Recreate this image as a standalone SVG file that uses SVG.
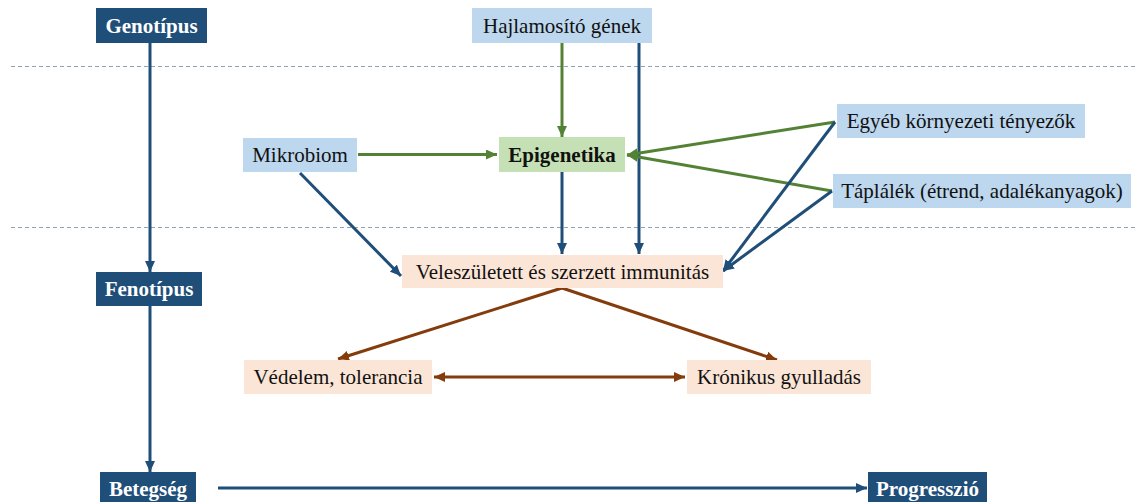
<svg xmlns="http://www.w3.org/2000/svg" width="1137" height="502" viewBox="0 0 1137 502">
<style>
.dk{fill:#1F4E79}
.lb{fill:#BDD7EE}
.gr{fill:#C5E0B4}
.pe{fill:#FBE5D6}
text{font-size:21px;text-anchor:middle;dominant-baseline:central}
.tw{font-weight:bold;fill:#fff}
.tb{fill:#111}
.tbb{font-weight:bold;fill:#111}
.b{stroke:#1F4E79;stroke-width:3;fill:none}
.g{stroke:#548235;stroke-width:3;fill:none}
.r{stroke:#843C0C;stroke-width:3;fill:none}
.d{stroke:#8FA3B3;stroke-width:1;stroke-dasharray:4,3;fill:none}
</style>
<defs>
<marker id="ab" markerUnits="userSpaceOnUse" markerWidth="11" markerHeight="10" refX="11" refY="5" orient="auto-start-reverse"><path d="M0,0 L11,5 L0,10 z" fill="#1F4E79"/></marker>
<marker id="ag" markerUnits="userSpaceOnUse" markerWidth="11" markerHeight="10" refX="11" refY="5" orient="auto-start-reverse"><path d="M0,0 L11,5 L0,10 z" fill="#548235"/></marker>
<marker id="ar" markerUnits="userSpaceOnUse" markerWidth="11" markerHeight="10" refX="11" refY="5" orient="auto-start-reverse"><path d="M0,0 L11,5 L0,10 z" fill="#843C0C"/></marker>
</defs>
<rect width="1137" height="502" fill="#fff"/>
<g id="separators">
<line class="d" x1="11" y1="66.5" x2="1137" y2="66.5"/>
<line class="d" x1="11" y1="227.5" x2="1137" y2="227.5"/>
</g>
<g id="connectors">
<line class="b" x1="150" y1="43" x2="150" y2="272" marker-end="url(#ab)"/>
<line class="b" x1="150" y1="306" x2="150" y2="472" marker-end="url(#ab)"/>
<line class="b" x1="218" y1="488" x2="867" y2="488" marker-end="url(#ab)"/>
<line class="g" x1="562" y1="43" x2="562" y2="137" marker-end="url(#ag)"/>
<line class="b" x1="639" y1="43" x2="639" y2="254" marker-end="url(#ab)"/>
<line class="g" x1="358" y1="154.5" x2="497" y2="154.5" marker-end="url(#ag)"/>
<line class="g" x1="835" y1="122" x2="627" y2="155" marker-end="url(#ag)"/>
<line class="g" x1="832" y1="191" x2="627" y2="155" marker-end="url(#ag)"/>
<line class="b" x1="835" y1="122" x2="723" y2="271" marker-end="url(#ab)"/>
<line class="b" x1="832" y1="191" x2="723" y2="271" marker-end="url(#ab)"/>
<line class="b" x1="300" y1="173" x2="401" y2="276" marker-end="url(#ab)"/>
<line class="b" x1="562" y1="172" x2="562" y2="254" marker-end="url(#ab)"/>
<line class="r" x1="562" y1="288" x2="338" y2="359" marker-end="url(#ar)"/>
<line class="r" x1="562" y1="288" x2="777" y2="360" marker-end="url(#ar)"/>
<line class="r" x1="434" y1="377" x2="685" y2="377" marker-start="url(#ar)" marker-end="url(#ar)"/>
</g>
<g font-family="Liberation Serif, serif">
<g id="genotipus"><rect class="dk" x="96" y="8" width="111" height="35"/><text class="tw" x="151.5" y="25.5">Genotípus</text></g>
<g id="hajlamosito"><rect class="lb" x="472" y="8" width="180" height="35"/><text class="tb" x="562" y="25.5">Hajlamosító gének</text></g>
<g id="mikrobiom"><rect class="lb" x="243" y="138" width="114" height="34"/><text class="tb" x="300" y="155">Mikrobiom</text></g>
<g id="epigenetika"><rect class="gr" x="499" y="137" width="126" height="35"/><text class="tbb" x="562" y="154.5">Epigenetika</text></g>
<g id="egyeb"><rect class="lb" x="837" y="104" width="248" height="34"/><text class="tb" x="961" y="121">Egyéb környezeti tényezők</text></g>
<g id="taplalek"><rect class="lb" x="833" y="174" width="298" height="34"/><text class="tb" x="982" y="191">Táplálék (étrend, adalékanyagok)</text></g>
<g id="fenotipus"><rect class="dk" x="96" y="272" width="106" height="34"/><text class="tw" x="149" y="289">Fenotípus</text></g>
<g id="immunitas"><rect class="pe" x="402" y="255" width="321" height="33"/><text class="tb" x="562.5" y="271.5">Veleszületett és szerzett immunitás</text></g>
<g id="vedelem"><rect class="pe" x="244" y="360" width="188" height="34"/><text class="tb" x="338" y="377">Védelem, tolerancia</text></g>
<g id="kronikus"><rect class="pe" x="687" y="360" width="184" height="34"/><text class="tb" x="779" y="377">Krónikus gyulladás</text></g>
<g id="betegseg"><rect class="dk" x="100" y="472" width="96" height="34"/><text class="tw" x="148" y="489">Betegség</text></g>
<g id="progresszio"><rect class="dk" x="868" y="472" width="119" height="34"/><text class="tw" x="927.5" y="489">Progresszió</text></g>
</g>
</svg>
